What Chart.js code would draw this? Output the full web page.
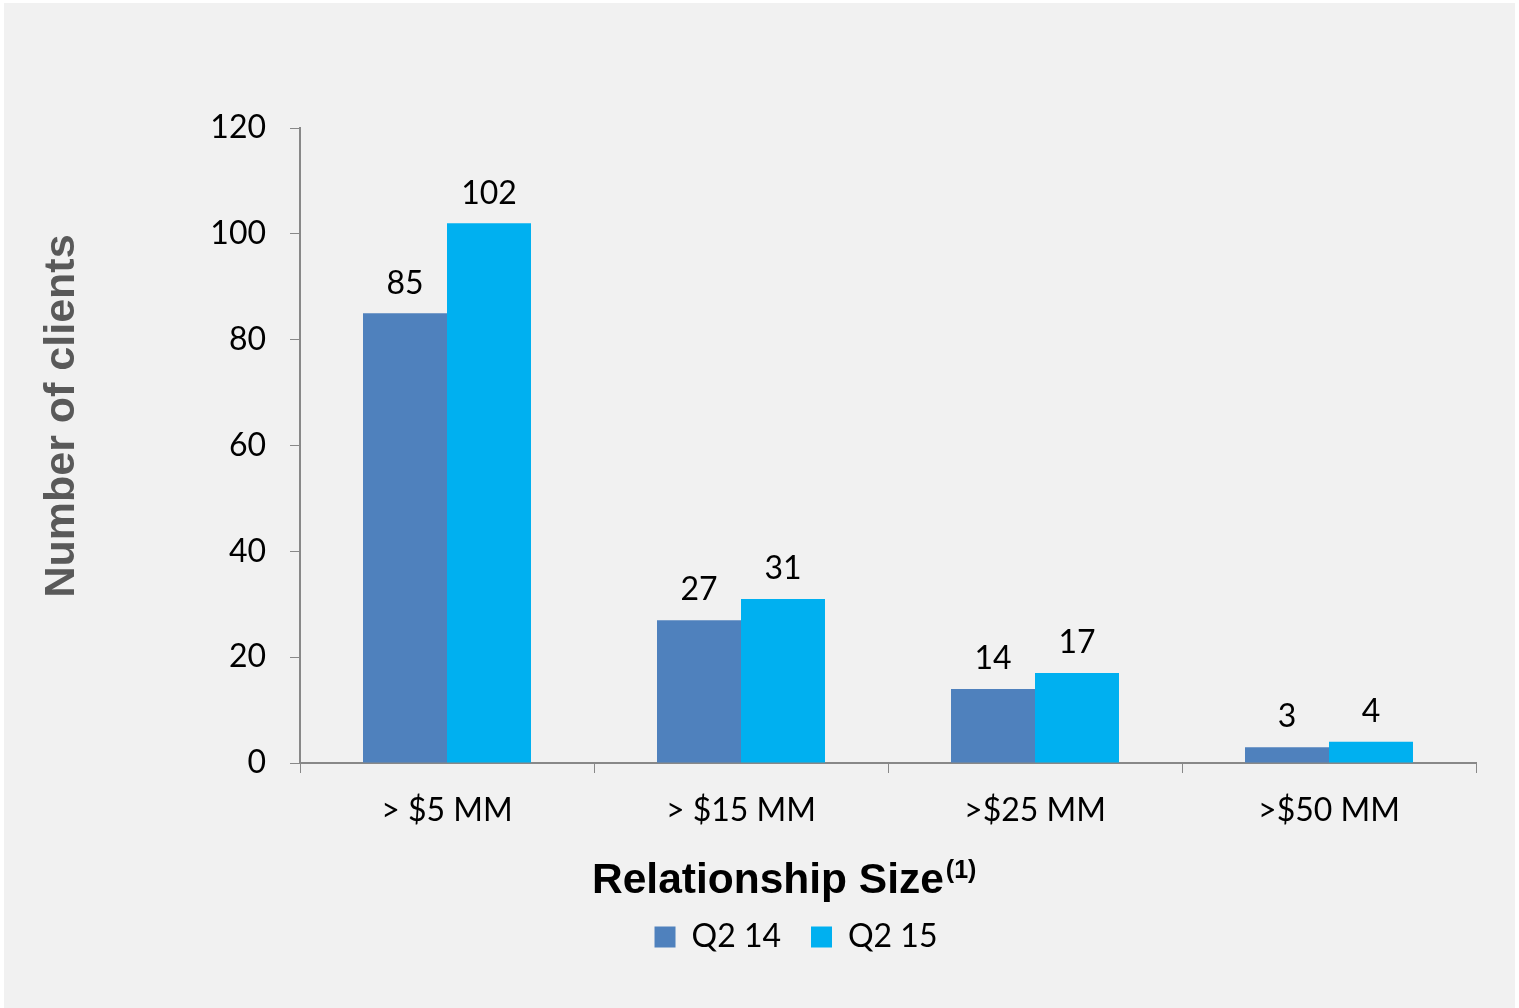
<!DOCTYPE html>
<html>
<head>
<meta charset="utf-8">
<script src="https://cdn.jsdelivr.net/npm/chart.js@4"></script>
<style>
  html, body { margin: 0; padding: 0; background: #ffffff; }
  #box { position: absolute; left: 4px; top: 3px; width: 1511px; height: 1005px; background: #f1f1f1; }
</style>
</head>
<body>
<div id="box"><canvas id="chart" width="1511" height="1005"></canvas></div>
<script>
/* ---------- DATA ---------- */
const categories = ['> $5 MM', '> $15 MM', '>$25 MM', '>$50 MM'];
const q214 = [85, 27, 14, 3];
const q215 = [102, 31, 17, 4];
const seriesNames = ['Q2 14', 'Q2 15'];
const yTicks = [0, 20, 40, 60, 80, 100, 120];
const yTitle = 'Number of clients';
const xTitle = 'Relationship Size';
const xTitleNote = '(1)';

const tickFont = { family: 'Lato, Calibri, sans-serif', size: 32 };
const boldFace = '"Liberation Sans", Arial, sans-serif';

// value labels above each bar
const barLabels = {
  id: 'barLabels',
  afterDatasetsDraw(chart) {
    const ctx = chart.ctx;
    ctx.save();
    ctx.font = '32px Lato, Calibri, sans-serif';
    ctx.fillStyle = '#000';
    ctx.textAlign = 'center';
    ctx.textBaseline = 'bottom';
    chart.data.datasets.forEach((ds, i) => {
      chart.getDatasetMeta(i).data.forEach((bar, j) => {
        ctx.fillText(ds.data[j], bar.x, bar.y - 14);
      });
    });
    ctx.restore();
  }
};

// axis titles (x title has a superscript note, so drawn by hand)
const axisTitles = {
  id: 'axisTitles',
  afterLayout(chart) {
    // legend sits a bit right of the canvas centre in the original
    chart.legend.left += 40;
    chart.legend.right += 40;
  },
  afterDraw(chart) {
    const ctx = chart.ctx;
    ctx.save();
    // y title
    ctx.translate(58, 413);
    ctx.rotate(-Math.PI / 2);
    ctx.font = 'bold 43px ' + boldFace;
    ctx.fillStyle = '#595959';
    ctx.textAlign = 'center';
    ctx.textBaseline = 'middle';
    ctx.fillText(yTitle, 0, 0);
    ctx.restore();

    ctx.save();
    ctx.fillStyle = '#000';
    ctx.textAlign = 'left';
    ctx.textBaseline = 'alphabetic';
    ctx.font = 'bold 42.5px ' + boldFace;
    const w = ctx.measureText(xTitle).width;
    ctx.fillText(xTitle, 588, 890);
    ctx.font = 'bold 25px ' + boldFace;
    ctx.fillText(xTitleNote, 588 + w + 2, 875);
    ctx.restore();
  }
};

new Chart(document.getElementById('chart'), {
  type: 'bar',
  data: {
    labels: categories,
    datasets: [
      { label: seriesNames[0], data: q214, backgroundColor: '#4f81bd' },
      { label: seriesNames[1], data: q215, backgroundColor: '#00b0f0' }
    ]
  },
  options: {
    responsive: false,
    animation: false,
    categoryPercentage: 0.5714,
    barPercentage: 1,
    layout: { padding: { left: 32, right: 39, top: 125, bottom: 45 } },
    plugins: {
      tooltip: { enabled: false },
      legend: {
        position: 'bottom',
        labels: {
          boxWidth: 21, boxHeight: 21, padding: 30,
          color: '#000',
          font: tickFont
        }
      }
    },
    scales: {
      x: {
        afterFit(axis) { axis.height = 128; },
        grid: { offset: true, drawOnChartArea: false, tickLength: 10, color: '#888' },
        border: { color: '#888', width: 2 },
        ticks: { color: '#000', font: tickFont, padding: 18 }
      },
      y: {
        min: 0, max: 120,
        afterBuildTicks(axis) { axis.ticks = yTicks.map(v => ({ value: v })); },
        afterFit(axis) { axis.width = 264; },
        grid: { drawOnChartArea: false, tickLength: 10, color: '#888' },
        border: { color: '#888', width: 2 },
        ticks: { color: '#000', font: tickFont, padding: 24 }
      }
    }
  },
  plugins: [barLabels, axisTitles]
});
</script>
</body>
</html>
